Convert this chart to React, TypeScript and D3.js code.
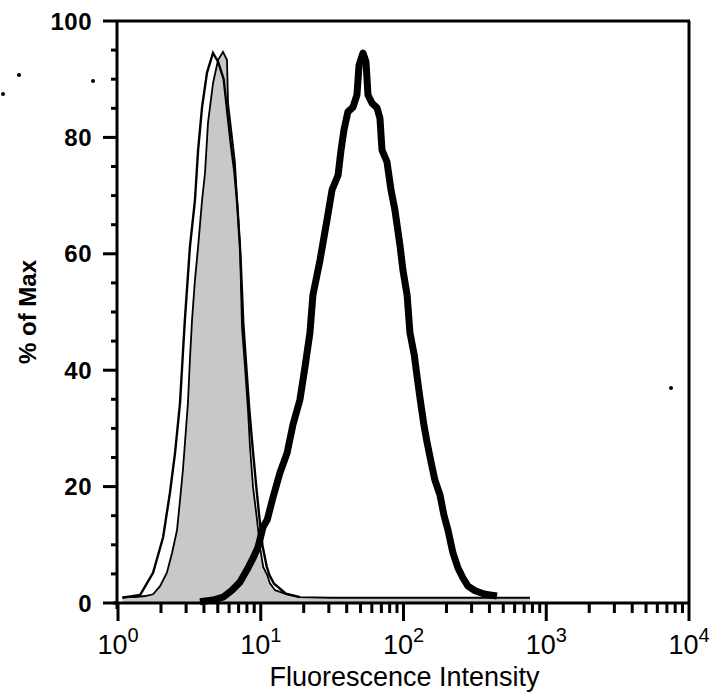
import React from "react";
import * as d3 from "d3";

// Open thin histogram (left)
const openX = [1.07, 1.43, 1.76, 2.07, 2.31, 2.51, 2.72, 2.85, 2.94, 3.19, 3.46, 3.64, 3.88, 4.2, 4.63, 5.02, 5.5, 5.85, 6.2, 6.55, 6.85, 7.2, 7.55, 7.95, 8.3, 8.75, 9.3, 9.8, 10.3, 11.0, 11.5, 12.4, 15.0, 18.8];
const openY = [0.9, 1.4, 5.2, 11.3, 18.9, 25.8, 34.4, 43.0, 48.6, 61.2, 69.2, 77.8, 85.2, 91.1, 94.5, 93.0, 90.0, 84.0, 78.5, 74.0, 68.5, 60.0, 48.0, 40.0, 33.5, 27.0, 20.0, 14.5, 9.8, 6.3, 4.8, 3.3, 1.6, 1.0];

// Gray filled histogram (control)
const fillX = [1.08, 1.31, 1.55, 1.76, 1.97, 2.2, 2.39, 2.59, 2.72, 2.85, 2.99, 3.09, 3.19, 3.3, 3.46, 3.64, 3.88, 4.07, 4.27, 4.63, 5.02, 5.44, 5.8, 5.9, 6.29, 6.6, 6.82, 7.16, 7.39, 7.76, 8.14, 8.41, 8.83, 9.42, 9.88, 10.4, 11.1, 11.6, 12.6, 15.3, 18.8, 30.6, 212, 769];
const fillY = [1.0, 1.0, 1.2, 1.5, 2.9, 5.2, 8.6, 12.5, 17.7, 22.9, 29.7, 34.4, 41.8, 48.6, 55.5, 61.2, 69.2, 73.9, 82.5, 89.3, 93.3, 94.7, 93.3, 85.9, 80.1, 75.6, 69.2, 61.2, 47.4, 40.5, 33.2, 26.8, 19.9, 14.3, 9.6, 6.2, 4.8, 3.4, 2.2, 1.5, 1.0, 0.9, 0.9, 0.9];

// Thick histogram (stained)
const thickX = [3.75, 4.63, 5.44, 6.29, 7.16, 8.01, 8.83, 9.57, 10.4, 11.1, 12.2, 13.6, 15.3, 16.8, 18.8, 20.4, 22.1, 23.2, 26.0, 29.1, 31.6, 34.8, 36.5, 38.3, 40.8, 44.3, 47.2, 48.8, 52.0, 54.6, 56.4, 60.1, 65.2, 68.4, 70.7, 76.6, 81.7, 87.1, 94.4, 99.1, 106, 111, 119, 124, 131, 139, 146, 156, 166, 180, 192, 205, 222, 241, 261, 283, 317, 372, 452];
const thickY = [0.2, 0.5, 1.0, 2.2, 3.6, 5.7, 7.7, 9.6, 13.1, 14.3, 18.2, 22.3, 25.8, 30.6, 34.9, 40.5, 46.4, 52.9, 58.9, 65.8, 71.0, 73.5, 77.8, 81.3, 84.4, 85.2, 87.3, 92.4, 94.5, 93.0, 87.3, 85.9, 85.1, 83.3, 77.8, 75.8, 71.0, 67.5, 61.5, 57.2, 52.9, 46.4, 42.6, 39.2, 34.9, 30.6, 27.7, 24.2, 21.1, 18.6, 15.1, 12.5, 8.6, 6.0, 4.3, 2.9, 2.1, 1.5, 1.2];

const yTicks = [0, 20, 40, 60, 80, 100];
const xDecades = [0, 1, 2, 3, 4];
const specks = [[3, 94], [19, 75], [93, 81], [671, 388]];

const W = 714;
const H = 696;
const FONT = "'Liberation Sans', Arial, Helvetica, sans-serif";

export default function App() {
  const x = d3.scaleLog().domain([1, 1e4]).range([118, 689]);
  const y = d3.scaleLinear().domain([0, 100]).range([603, 21]);

  const pts = (xs: number[], ys: number[]) => xs.map((v, i) => [v, ys[i]] as [number, number]);
  const line = d3.line<[number, number]>().x((d) => x(d[0])).y((d) => y(d[1]));
  const area = d3.area<[number, number]>().x((d) => x(d[0])).y0(y(0)).y1((d) => y(d[1]));

  const minorY = d3.range(0, 101, 5).filter((v) => v % 20 !== 0);
  const allXTicks = x.ticks();
  const minorX = allXTicks.filter((v) => Math.abs(Math.log10(v) - Math.round(Math.log10(v))) > 1e-6);

  const fillPts = pts(fillX, fillY);
  const x0 = x.range()[0];
  const x1 = x.range()[1];
  const yTop = y(100);
  const yBot = y(0);

  return (
    <svg width={W} height={H} style={{ position: "absolute", left: 0, top: 0, background: "#fff" }}>
      <rect x={0} y={0} width={W} height={H} fill="#fff" />
      {/* gray filled histogram */}
      <path d={area(fillPts) || ""} fill="#c8c8c8" stroke="none" />
      <path d={line(fillPts) || ""} fill="none" stroke="#000" strokeWidth={1.8} />
      <path d={line(pts(openX, openY)) || ""} fill="none" stroke="#000" strokeWidth={2.4} />
      <path d={line(pts(thickX, thickY)) || ""} fill="none" stroke="#000" strokeWidth={7} strokeLinejoin="round" />

      {/* frame */}
      <line x1={x0 - 1} x2={x1 + 1} y1={yTop} y2={yTop} stroke="#000" strokeWidth={3} />
      <line x1={x1} x2={x1} y1={yTop} y2={yBot} stroke="#000" strokeWidth={3} />
      <line x1={x0 - 1} x2={x0 - 1} y1={yTop} y2={yBot + 6} stroke="#000" strokeWidth={3} />
      <line x1={x0 - 5} x2={x1 + 1} y1={yBot} y2={yBot} stroke="#000" strokeWidth={3} />

      {/* ticks */}
      {yTicks.map((t) => (
        <rect key={"yt" + t} x={x0 - 15} y={y(t) - 1.5} width={14} height={3} fill="#000" />
      ))}
      {minorY.map((t) => (
        <rect key={"ym" + t} x={x0 - 7} y={y(t) - 1.5} width={6} height={3} fill="#000" />
      ))}
      {xDecades.map((e) => (
        <rect key={"xt" + e} x={x(Math.pow(10, e)) - 1.5} y={yBot} width={3} height={18} fill="#000" />
      ))}
      {minorX.map((v, i) => (
        <rect key={"xm" + i} x={x(v) - 1.5} y={yBot} width={3} height={10} fill="#000" />
      ))}

      {yTicks.map((t) => (
        <text key={"yl" + t} x={92} y={y(t)} dy="0.36em" textAnchor="end" fontFamily={FONT} fontWeight="bold" fontSize={24} letterSpacing={0.5} fill="#000">
          {t}
        </text>
      ))}
      {xDecades.map((e) => (
        <text key={"xl" + e} x={x(Math.pow(10, e))} y={654} textAnchor="middle" fontFamily={FONT} fill="#000">
          <tspan fontSize={27}>10</tspan>
          <tspan fontSize={20} dy={-12}>{e}</tspan>
        </text>
      ))}

      {/* axis titles */}
      <text x={(x0 + x1) / 2 + 1} y={686} textAnchor="middle" fontFamily={FONT} fontSize={27} fill="#000">
        Fluorescence Intensity
      </text>
      <text transform={`translate(36, ${(yTop + yBot) / 2}) rotate(-90)`} textAnchor="middle" fontFamily={FONT} fontWeight="bold" fontSize={24} fill="#000">
        % of Max
      </text>

      {specks.map((s, i) => (
        <circle key={"s" + i} cx={s[0]} cy={s[1]} r={2} fill="#000" />
      ))}
    </svg>
  );
}
